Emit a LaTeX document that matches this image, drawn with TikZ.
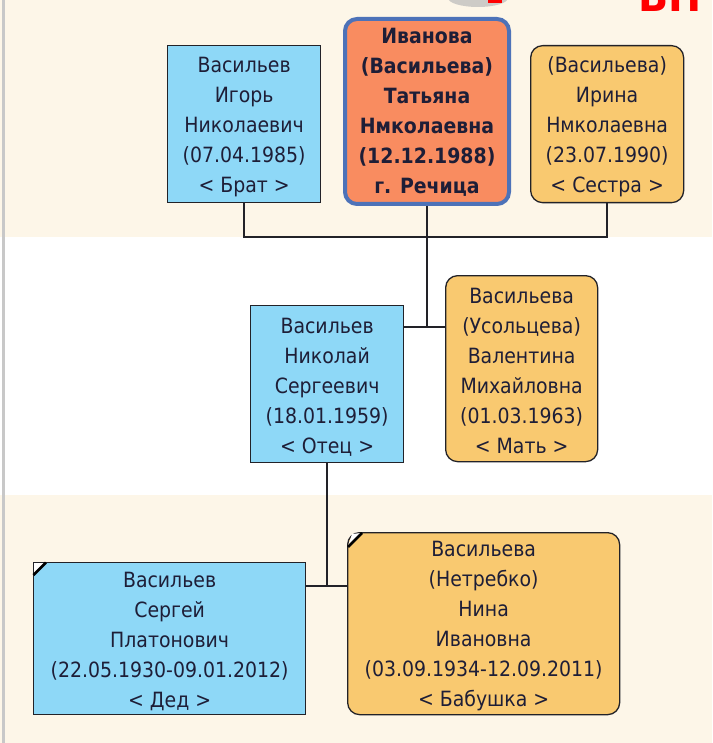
\documentclass[tikz,border=0pt]{standalone}
\usepackage{fontspec}
\setmainfont{DejaVu Sans Condensed}
\definecolor{cream}{RGB}{253,246,232}
\definecolor{bluef}{RGB}{142,216,247}
\definecolor{yellf}{RGB}{249,201,112}
\definecolor{oranf}{RGB}{249,140,96}
\definecolor{borderb}{RGB}{77,114,184}
\definecolor{linec}{RGB}{34,34,40}
\definecolor{textc}{RGB}{30,30,55}
\definecolor{sidegray}{RGB}{200,200,200}
\begin{document}
\begin{tikzpicture}[x=1pt,y=-1pt,
  pbox/.style={draw=linec, line width=1.3pt, anchor=north west, inner sep=0pt},
  mbox/.style={pbox, fill=bluef},
  fbox/.style={pbox, fill=yellf, rounded corners=12pt},
  txt/.style={align=center, inner sep=0pt, text=textc, font=\fontsize{21}{30}\selectfont},
  btxt/.style={txt, font=\fontsize{21}{30}\selectfont\bfseries},
  conn/.style={draw=linec, line width=1.8pt},
  deadmark/.style={line width=2.6pt, draw=black}
]
\useasboundingbox (0,0) rectangle (712,743);
% background bands
\fill[cream] (0,0) rectangle (712,237);
\fill[white] (0,237) rectangle (712,495);
\fill[cream] (0,495) rectangle (712,743);
\fill[sidegray] (2,0) rectangle (5,743);
% fragments at top
\begin{scope}
\clip (0,0) rectangle (712,743);
\fill[gray!55, opacity=0.7] (478,-2) ellipse (30 and 9);
\fill[red] (488,0) rectangle (502,3);
\node[anchor=base west, text=red, font=\fontsize{44}{44}\selectfont\bfseries, inner sep=0] (vp) at (638,12) {ВП};
\end{scope}

% boxes
\node[mbox, minimum width=153, minimum height=157] (bro) at (167,45) {};
\node[pbox, fill=oranf, draw=borderb, line width=4pt, rounded corners=12pt,
  minimum width=164, minimum height=185] (tat) at (343,17) {};
\node[fbox, minimum width=153, minimum height=157] (sis) at (530,45) {};
\node[mbox, minimum width=153, minimum height=157] (fa) at (250,305) {};
\node[fbox, minimum width=152, minimum height=186] (mo) at (445,275) {};
\node[mbox, minimum width=272, minimum height=152] (gf) at (33,562) {};
\node[fbox, minimum width=272, minimum height=182] (gm) at (347,532) {};

% texts
\node[txt] (brot) at ([yshift=-3pt]bro.center)
  {Васильев\\Игорь\\Николаевич\\(07.04.1985)\\< Брат >};
\node[btxt] (tatt) at ([yshift=-1pt]tat.center)
  {Иванова\\(Васильева)\\Татьяна\\Нмколаевна\\(12.12.1988)\\г. Речица};
\node[txt] (sist) at ([yshift=-3pt]sis.center)
  {(Васильева)\\Ирина\\Нмколаевна\\(23.07.1990)\\< Сестра >};
\node[txt] (fat) at ([yshift=-3pt]fa.center)
  {Васильев\\Николай\\Сергеевич\\(18.01.1959)\\< Отец >};
\node[txt] (mot) at ([yshift=-2pt]mo.center)
  {Васильева\\(Усольцева)\\Валентина\\Михайловна\\(01.03.1963)\\< Мать >};
\node[txt] (gft) at ([yshift=-3pt]gf.center)
  {Васильев\\Сергей\\Платонович\\(22.05.1930-09.01.2012)\\< Дед >};
\node[txt] (gmt) at ([yshift=-2pt]gm.center)
  {Васильева\\(Нетребко)\\Нина\\Ивановна\\(03.09.1934-12.09.2011)\\< Бабушка >};

% deceased corner marks
\fill[white] (34,563) -- (46,563) -- (34,575) -- cycle;
\draw[deadmark] (33.5,575) -- (46,562.5);
\fill[white] (352,534) -- (361,533) -- (348,546) -- cycle;
\draw[deadmark] (348,547) -- (362,533);

% connectors
\coordinate (sib) at (tat.south |- 0,237);
\coordinate (par) at (tat.south |- 0,327);
\coordinate (gp) at (fa.south |- 0,586);
\draw[conn] (bro.south) |- (sib) -| (sis.south);
\draw[conn] (tat.south) -- (par);
\draw[conn] (fa.east |- par) -- (mo.west |- par);
\draw[conn] (fa.south) -- (gp);
\draw[conn] (gf.east |- gp) -- (gm.west |- gp);
\end{tikzpicture}
\end{document}
